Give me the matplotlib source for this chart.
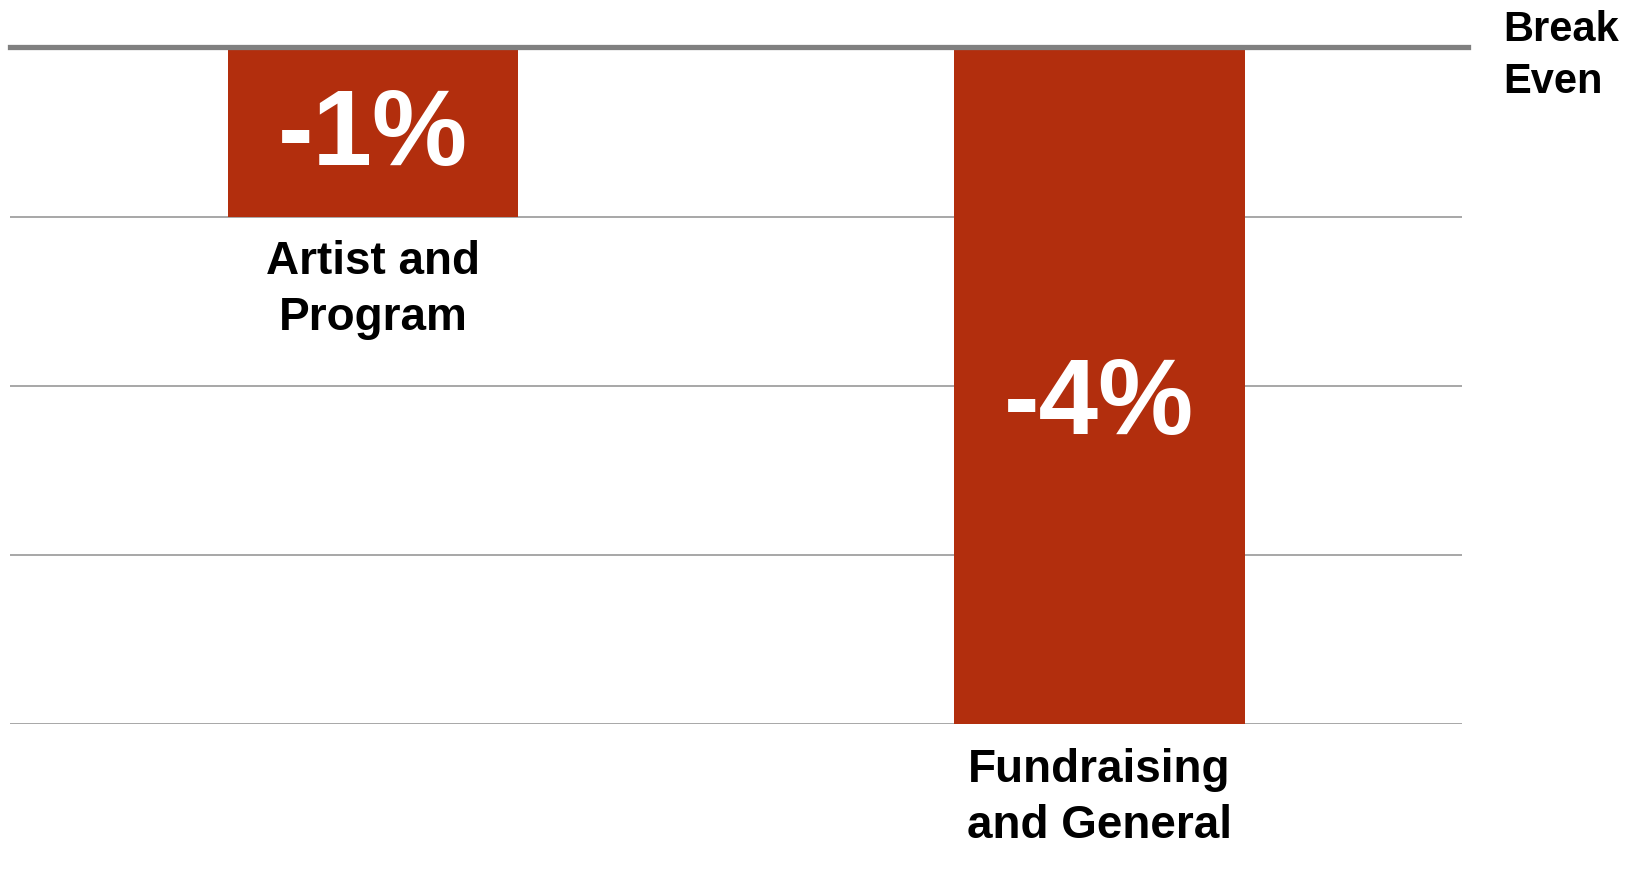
import matplotlib
matplotlib.use('Agg')
import matplotlib.pyplot as plt

# --- Data ---
categories = ['Artist and\nProgram', 'Fundraising\nand General']
values = [-1, -4]
value_labels = ['-1%', '-4%']
gridlines = [-1, -2, -3, -4]

# --- Style ---
BAR_COLOR = '#b22e0d'
GRID_COLOR = '#a0a0a0'
ZERO_COLOR = '#808080'
FONT = ['Liberation Sans', 'DejaVu Sans']

fig = plt.figure(figsize=(16.45, 8.93), dpi=100)
ax = fig.add_axes([0.006, 0.189, 0.883, 0.758])

x = list(range(len(categories)))

# gridlines behind bars
for g in gridlines:
    ax.axhline(g, color=GRID_COLOR, linewidth=1.3, zorder=0)

ax.bar(x, values, width=0.4, color=BAR_COLOR, zorder=2)

# thick break-even line
ax.axhline(0, xmin=0, xmax=1.004, color=ZERO_COLOR, linewidth=3.8, zorder=3, clip_on=False)

# value labels inside the bars (a little below the middle)
for xi, v, lab in zip(x, values, value_labels):
    ax.text(xi, v * 0.53, lab, ha='center', va='center', color='white',
            fontsize=77, fontweight='bold', family=FONT, zorder=4)

# category labels below each bar
for xi, v, cat in zip(x, values, categories):
    ax.annotate(cat, xy=(xi, v), xytext=(0, -17), textcoords='offset points',
                ha='center', va='top', fontsize=33, fontweight='bold',
                family=FONT, linespacing=1.35, annotation_clip=False)

# "Break Even" label at the right of the zero line
fig.text(0.914, 0.989, 'Break\nEven', ha='left', va='top', fontsize=30,
         fontweight='bold', family=FONT, linespacing=1.4)

ax.set_xlim(-0.5, 1.5)
ax.set_ylim(-4, 0)
ax.axis('off')

fig.savefig('out.png', dpi=100)
